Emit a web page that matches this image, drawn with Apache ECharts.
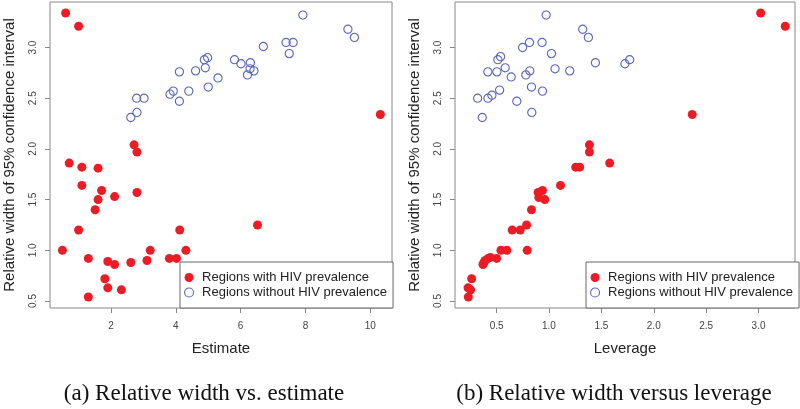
<!DOCTYPE html>
<html><head><meta charset="utf-8">
<script src="https://cdn.jsdelivr.net/npm/echarts@6/dist/echarts.min.js"></script>
<style>html,body{margin:0;padding:0;background:#fff}#c{width:800px;height:409px}</style>
</head><body><div id="c"></div>
<script>
// ---- data ----
const seriesNames = ['Regions with HIV prevalence', 'Regions without HIV prevalence'];

// panel (a): estimate vs relative width
const estHivX = [0.60,1.00,0.71,1.10,1.60,2.71,2.80,1.10,1.71,1.60,1.51,2.11,2.80,1.00,0.50,1.30,1.90,2.11,2.61,3.11,3.21,3.80,4.02,4.31,4.12,1.81,1.90,2.32,1.30,6.52,10.31];
const estHivY = [3.34,3.21,1.86,1.82,1.81,2.04,1.97,1.64,1.59,1.50,1.40,1.53,1.57,1.20,1.00,0.92,0.89,0.86,0.88,0.90,1.00,0.92,0.92,1.00,1.20,0.72,0.63,0.61,0.54,1.25,2.34];
const estNoX = [2.61,2.80,2.79,3.02,3.82,3.92,4.11,4.40,4.11,4.61,4.88,4.98,4.91,5.30,5.00,5.81,6.01,6.30,6.29,6.41,6.21,6.70,7.40,7.62,7.50,7.92,9.31,9.51];
const estNoY = [2.31,2.36,2.50,2.50,2.54,2.57,2.47,2.57,2.76,2.77,2.88,2.90,2.80,2.70,2.61,2.88,2.84,2.85,2.79,2.77,2.73,3.01,3.05,3.05,2.94,3.32,3.18,3.10];

// panel (b): leverage vs relative width
const levHivX = [3.02,3.255,2.367,1.579,1.255,1.293,1.386,1.386,1.110,0.938,0.896,0.903,0.960,0.833,0.786,0.725,0.649,0.541,0.598,0.792,0.50,0.44,0.42,0.39,0.38,0.37,0.262,0.227,0.252,0.230];
const levHivY = [3.34,3.21,2.34,1.86,1.82,1.82,2.04,1.97,1.64,1.59,1.57,1.52,1.50,1.40,1.25,1.20,1.20,1.00,1.00,1.00,0.92,0.93,0.92,0.90,0.88,0.86,0.72,0.63,0.61,0.54];
const levNoX = [0.319,0.363,0.417,0.455,0.417,0.503,0.529,0.512,0.538,0.582,0.639,0.693,0.748,0.814,0.779,0.817,0.833,0.836,0.934,0.938,0.973,1.024,1.058,1.198,1.322,1.376,1.443,1.725,1.770];
const levNoY = [2.50,2.31,2.50,2.53,2.76,2.76,2.58,2.88,2.91,2.80,2.71,2.47,3.00,3.05,2.73,2.77,2.61,2.36,3.05,2.57,3.32,2.94,2.79,2.77,3.18,3.10,2.85,2.84,2.88];

const estTicks = [2, 4, 6, 8, 10];
const levTicks = [0.5, 1.0, 1.5, 2.0, 2.5, 3.0];
const widthTicks = [0.5, 1.0, 1.5, 2.0, 2.5, 3.0];
const axisTitles = ['Estimate', 'Leverage', 'Relative width of 95% confidence interval'];
const captions = ['(a) Relative width vs. estimate', '(b) Relative width versus leverage'];

// ---- chart ----
const RED = '#ec1c24', BLUE = '#5a66bb', BOX = '#888';
const zip = (xs, ys) => xs.map((x, i) => [x, ys[i]]);
const SANS = 'Liberation Sans';

function xAx(gi, min, max, ticks, name, dec) {
  return {
    type: 'value', gridIndex: gi, min, max, name, nameLocation: 'middle', nameGap: 33,
    nameTextStyle: { fontFamily: SANS, fontSize: 15, color: '#222' },
    axisLine: { show: false }, splitLine: { show: false },
    axisTick: { show: true, length: 5, lineStyle: { color: BOX }, customValues: ticks },
    axisLabel: { customValues: ticks, margin: 13, fontSize: 10, color: '#444', fontFamily: SANS,
      formatter: v => dec ? v.toFixed(1) : String(v) }
  };
}
function yAx(gi, name) {
  return {
    type: 'value', gridIndex: gi, min: 0.431, max: 3.449, name, nameLocation: 'middle', nameGap: 33,
    nameRotate: 90,
    nameTextStyle: { fontFamily: SANS, fontSize: 15, color: '#222' },
    axisLine: { show: false }, splitLine: { show: false },
    axisTick: { show: true, length: 5, lineStyle: { color: BOX }, customValues: widthTicks },
    axisLabel: { customValues: widthTicks, margin: 12, rotate: 90, fontSize: 10, color: '#444', fontFamily: SANS,
      formatter: v => v.toFixed(1) }
  };
}
function legend(left) {
  return {
    left, top: 262, orient: 'vertical', padding: [9, 6, 9, 4], itemGap: 2,
    itemWidth: 16, itemHeight: 9, borderColor: '#666', borderWidth: 1, backgroundColor: '#fff',
    borderRadius: 0, selectedMode: false,
    textStyle: { fontSize: 13, color: '#222', fontFamily: SANS },
    data: [
      { name: seriesNames[0], icon: 'circle' },
      { name: seriesNames[1], icon: 'circle', itemStyle: { color: 'rgba(255,255,255,0)', borderColor: BLUE, borderWidth: 1.1 } }
    ]
  };
}
function sc(name, data, xi, filled) {
  return {
    type: 'scatter', name, data, xAxisIndex: xi, yAxisIndex: xi, symbol: 'circle', clip: false, silent: true,
    symbolSize: filled ? 9 : 8.2,
    itemStyle: filled ? { color: RED, opacity: 1 } : { color: 'rgba(255,255,255,0)', borderColor: BLUE, borderWidth: 1.1, opacity: 1 },
    z: filled ? 3 : 2
  };
}

const chart = echarts.init(document.getElementById('c'), null, { renderer: 'canvas' });
chart.setOption({
  animation: false,
  backgroundColor: '#fff',
  grid: [
    { left: 50, top: 2, width: 342, height: 306, show: true, borderColor: BOX, borderWidth: 1, backgroundColor: 'transparent' },
    { left: 455, top: 2, width: 340, height: 306, show: true, borderColor: BOX, borderWidth: 1, backgroundColor: 'transparent' }
  ],
  xAxis: [xAx(0, 0.117, 10.67, estTicks, axisTitles[0], false), xAx(1, 0.103, 3.348, levTicks, axisTitles[1], true)],
  yAxis: [yAx(0, axisTitles[2]), yAx(1, axisTitles[2])],
  legend: [legend(180), legend(586)],
  series: [
    sc(seriesNames[1], zip(estNoX, estNoY), 0, false),
    sc(seriesNames[0], zip(estHivX, estHivY), 0, true),
    sc(seriesNames[1], zip(levNoX, levNoY), 1, false),
    sc(seriesNames[0], zip(levHivX, levHivY), 1, true)
  ],
  graphic: [
    { type: 'text', x: 204, y: 394, style: { text: captions[0], fontFamily: 'Liberation Serif', fontSize: 23, fill: '#111', align: 'center', verticalAlign: 'middle' } },
    { type: 'text', x: 614, y: 394, style: { text: captions[1], fontFamily: 'Liberation Serif', fontSize: 23, fill: '#111', align: 'center', verticalAlign: 'middle' } }
  ]
});
</script></body></html>
